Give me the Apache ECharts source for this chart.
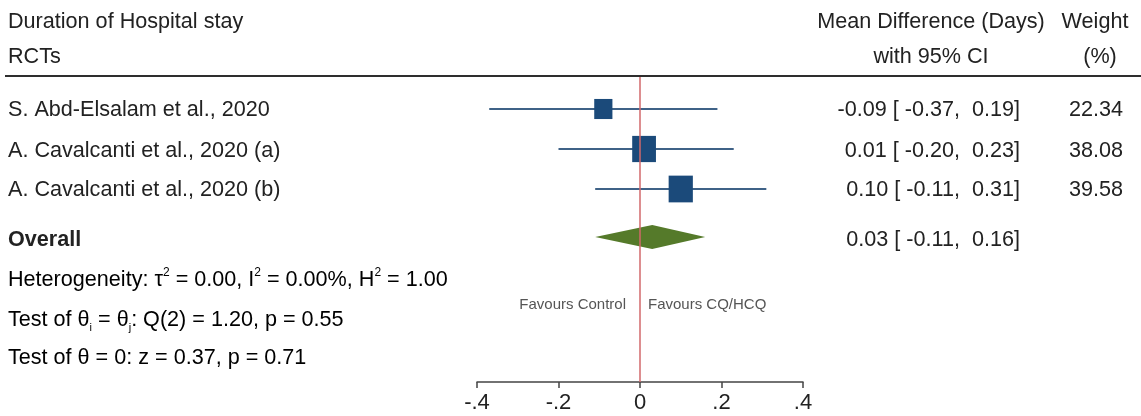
<!DOCTYPE html>
<html>
<head>
<meta charset="utf-8">
<script src="https://cdn.jsdelivr.net/npm/echarts@6/dist/echarts.min.js"></script>
<style>
html,body{margin:0;padding:0;background:#fff;}
#chart{width:1141px;height:416px;}
</style>
</head>
<body>
<div id="chart"></div>
<script>
// ---- data ----
const headerLeft = ['Duration of Hospital stay', 'RCTs'];
const headerEffect = ['Mean Difference (Days)', 'with 95% CI'];
const headerWeight = ['Weight', '(%)'];
const studies = ['S. Abd-Elsalam et al., 2020', 'A. Cavalcanti et al., 2020 (a)', 'A. Cavalcanti et al., 2020 (b)'];
const estimates = [-0.09, 0.01, 0.10];
const lowerCI = [-0.37, -0.20, -0.11];
const upperCI = [0.19, 0.23, 0.31];
const weights = [22.34, 38.08, 39.58];
const studyRows = [1, 2, 3];
const overallLabel = 'Overall';
const overallEst = 0.03;
const overallLower = -0.11;
const overallUpper = 0.16;
const overallRow = 4.2;
const xTicks = [-0.4, -0.2, 0, 0.2, 0.4];
const xTickLabels = ['-.4', '-.2', '0', '.2', '.4'];
const favourLeft = 'Favours Control';
const favourRight = 'Favours CQ/HCQ';

const FONT = '"Liberation Sans", Arial, sans-serif';
const FS = 21.6;
const TXT = '#222';
const fmt = v => v.toFixed(2);
const fmtCI = (e, l, u) => fmt(e) + ' [ ' + fmt(l) + ',  ' + fmt(u) + ']';

const chart = echarts.init(document.getElementById('chart'), null, {renderer: 'canvas'});

const studyData = estimates.map((e, i) => [e, studyRows[i], lowerCI[i], upperCI[i], weights[i]]);

function txt(x, y, text, align, extra) {
  return Object.assign({
    type: 'text', x: x, y: y,
    style: {text: text, font: FS + 'px ' + FONT, fill: TXT, align: align || 'left', verticalAlign: 'middle'}
  }, extra || {});
}

const rowY = [110, 151, 190];
const graphics = [
  txt(8, 22, headerLeft[0]),
  txt(8, 57, headerLeft[1]),
  txt(931, 22, headerEffect[0], 'center'),
  txt(931, 57, headerEffect[1], 'center'),
  txt(1095, 22, headerWeight[0], 'center'),
  txt(1100, 57, headerWeight[1], 'center'),
  {type: 'line', shape: {x1: 5, y1: 76, x2: 1141, y2: 76}, style: {stroke: '#2e2e2e', lineWidth: 2}},
];
studies.forEach((s, i) => {
  graphics.push(txt(8, rowY[i], s));
  graphics.push(txt(1020, rowY[i], fmtCI(estimates[i], lowerCI[i], upperCI[i]), 'right'));
  graphics.push(txt(1123, rowY[i], weights[i].toFixed(2), 'right'));
});
graphics.push({type: 'text', x: 8, y: 240, style: {text: overallLabel, font: 'bold ' + FS + 'px ' + FONT, fill: TXT, verticalAlign: 'middle'}});
graphics.push(txt(1020, 240, fmtCI(overallEst, overallLower, overallUpper), 'right'));

const rich = {
  n: {fontSize: FS, fontFamily: FONT, color: TXT, lineHeight: 26},
  sup: {fontSize: 12, fontFamily: FONT, color: TXT, lineHeight: 13, verticalAlign: 'top'},
  sub: {fontSize: 11, fontFamily: FONT, color: TXT, lineHeight: 9, verticalAlign: 'bottom'}
};
function richText(x, y, text) {
  return {type: 'text', x: x, y: y, style: {text: text, rich: rich, verticalAlign: 'middle', align: 'left'}};
}
graphics.push(richText(8, 280, '{n|Heterogeneity: τ}{sup|2}{n| = 0.00, I}{sup|2}{n| = 0.00%, H}{sup|2}{n| = 1.00}'));
graphics.push(richText(8, 320, '{n|Test of θ}{sub|i}{n| = θ}{sub|j}{n|: Q(2) = 1.20, p = 0.55}'));
graphics.push(richText(8, 358, '{n|Test of θ = 0: z = 0.37, p = 0.71}'));
graphics.push({type: 'text', x: 626, y: 305, style: {text: favourLeft, font: '15px ' + FONT, fill: '#555', align: 'right', verticalAlign: 'middle'}});
graphics.push({type: 'text', x: 648, y: 305, style: {text: favourRight, font: '15px ' + FONT, fill: '#555', align: 'left', verticalAlign: 'middle'}});

chart.setOption({
  animation: false,
  backgroundColor: '#fff',
  grid: {left: 477, right: 338, top: 77, bottom: 34, containLabel: false},
  xAxis: {
    type: 'value', min: -0.4, max: 0.4, interval: 0.2, position: 'bottom',
    axisLine: {show: true, onZero: false, lineStyle: {color: '#444', width: 1.5}},
    axisTick: {show: true, inside: false, length: 6, lineStyle: {color: '#444', width: 1.5}},
    splitLine: {show: false},
    axisLabel: {
      margin: 10, fontSize: 22, fontFamily: FONT, color: TXT,
      formatter: v => { const i = xTicks.findIndex(t => Math.abs(t - v) < 1e-9); return i >= 0 ? xTickLabels[i] : ''; }
    }
  },
  yAxis: {type: 'value', inverse: true, min: 0.2, max: 7.825, show: false},
  series: [
    {
      type: 'custom',
      data: studyData,
      encode: {x: 0, y: 1},
      renderItem: function (params, api) {
        const est = api.value(0), row = api.value(1), lo = api.value(2), hi = api.value(3), w = api.value(4);
        const p0 = api.coord([lo, row]);
        const p1 = api.coord([hi, row]);
        const c = api.coord([est, row]);
        const sw = 3.85 * Math.sqrt(w), sh = 4.25 * Math.sqrt(w);
        return {
          type: 'group',
          children: [
            {type: 'line', shape: {x1: p0[0], y1: p0[1], x2: p1[0], y2: p1[1]}, style: {stroke: '#3f6287', lineWidth: 1.8}},
            {type: 'rect', shape: {x: c[0] - sw / 2, y: c[1] - sh / 2, width: sw, height: sh}, style: {fill: '#1b4a7a'}}
          ]
        };
      },
      markLine: {
        silent: true, symbol: 'none', label: {show: false},
        lineStyle: {color: '#d2686b', width: 1.5, type: 'solid'},
        data: [{xAxis: 0}]
      },
      z: 3
    },
    {
      type: 'custom',
      data: [[overallEst, overallRow, overallLower, overallUpper]],
      encode: {x: 0, y: 1},
      renderItem: function (params, api) {
        const est = api.value(0), row = api.value(1), lo = api.value(2), hi = api.value(3);
        const l = api.coord([lo, row]), r = api.coord([hi, row]), c = api.coord([est, row]);
        const h = 12;
        return {
          type: 'polygon',
          shape: {points: [[l[0], l[1]], [c[0], c[1] - h], [r[0], r[1]], [c[0], c[1] + h]]},
          style: {fill: '#557a2a'}
        };
      },
      z: 3
    }
  ],
  graphic: graphics
});
</script>
</body>
</html>
